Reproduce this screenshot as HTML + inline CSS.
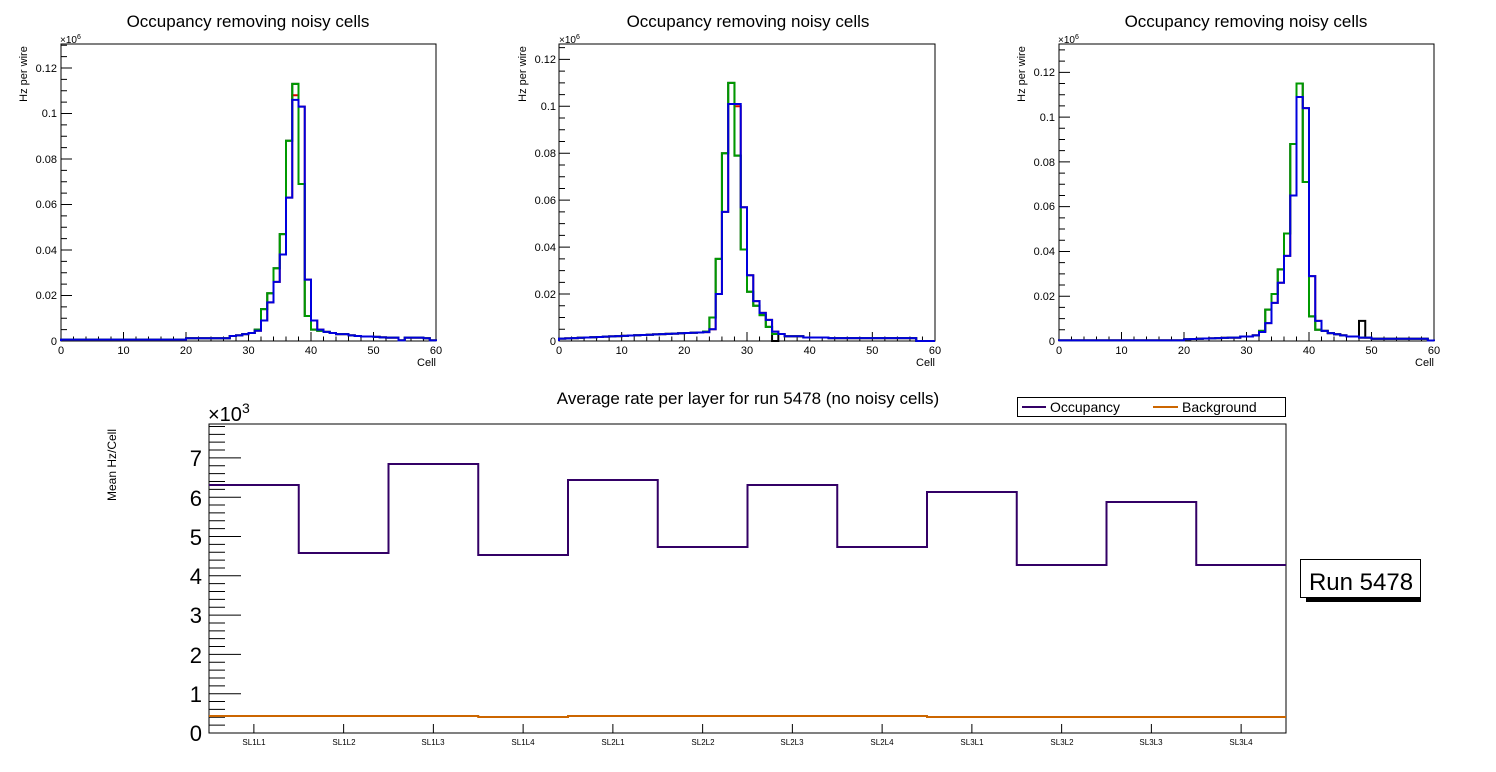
<!DOCTYPE html>
<html><head><meta charset="utf-8"><style>
html,body{margin:0;padding:0;background:#fff;}
svg{display:block;font-family:"Liberation Sans",Arial,sans-serif;}
</style></head><body>
<svg id="s" width="1496" height="772" viewBox="0 0 1496 772" xmlns="http://www.w3.org/2000/svg">
<rect width="1496" height="772" fill="#fff"/>
<g id="g"></g>
<!-- top titles -->
<text x="248" y="27" font-size="17" text-anchor="middle">Occupancy removing noisy cells</text>
<text x="748" y="27" font-size="17" text-anchor="middle">Occupancy removing noisy cells</text>
<text x="1246" y="27" font-size="17" text-anchor="middle">Occupancy removing noisy cells</text>
<!-- y labels -->
<text transform="translate(27,74) rotate(-90)" font-size="11" text-anchor="middle">Hz per wire</text>
<text transform="translate(526,74) rotate(-90)" font-size="11" text-anchor="middle">Hz per wire</text>
<text transform="translate(1025,74) rotate(-90)" font-size="11" text-anchor="middle">Hz per wire</text>
<text x="60" y="43" font-size="10">×10<tspan dy="-4" font-size="7">6</tspan></text>
<text x="559" y="43" font-size="10">×10<tspan dy="-4" font-size="7">6</tspan></text>
<text x="1058" y="43" font-size="10">×10<tspan dy="-4" font-size="7">6</tspan></text>
<text x="436" y="366" font-size="11" text-anchor="end">Cell</text>
<text x="935" y="366" font-size="11" text-anchor="end">Cell</text>
<text x="1434" y="366" font-size="11" text-anchor="end">Cell</text>
<g id="tl" font-size="11"></g>
<!-- left plot tick labels -->
<g font-size="11" text-anchor="end">
<text x="57" y="345">0</text><text x="57" y="299">0.02</text><text x="57" y="254">0.04</text><text x="57" y="208">0.06</text><text x="57" y="163">0.08</text><text x="57" y="117">0.1</text><text x="57" y="72">0.12</text>
<text x="556" y="345">0</text><text x="556" y="298">0.02</text><text x="556" y="251">0.04</text><text x="556" y="204">0.06</text><text x="556" y="157">0.08</text><text x="556" y="110">0.1</text><text x="556" y="63">0.12</text>
<text x="1055" y="345">0</text><text x="1055" y="300">0.02</text><text x="1055" y="255">0.04</text><text x="1055" y="210">0.06</text><text x="1055" y="166">0.08</text><text x="1055" y="121">0.1</text><text x="1055" y="76">0.12</text>
</g>
<g font-size="11" text-anchor="middle">
<text x="61" y="354">0</text><text x="123.5" y="354">10</text><text x="186" y="354">20</text><text x="248.5" y="354">30</text><text x="311" y="354">40</text><text x="373.5" y="354">50</text><text x="436" y="354">60</text>
<text x="559" y="354">0</text><text x="621.7" y="354">10</text><text x="684.3" y="354">20</text><text x="747" y="354">30</text><text x="809.7" y="354">40</text><text x="872.3" y="354">50</text><text x="935" y="354">60</text>
<text x="1059" y="354">0</text><text x="1121.5" y="354">10</text><text x="1184" y="354">20</text><text x="1246.5" y="354">30</text><text x="1309" y="354">40</text><text x="1371.5" y="354">50</text><text x="1434" y="354">60</text>
</g>
<!-- bottom -->
<text x="748" y="404" font-size="17" text-anchor="middle">Average rate per layer for run 5478 (no noisy cells)</text>
<text transform="translate(116,465) rotate(-90)" font-size="12" text-anchor="middle">Mean Hz/Cell</text>
<text x="208" y="421" font-size="20">×10<tspan dy="-8" font-size="14">3</tspan></text>
<g font-size="22" text-anchor="end">
<text x="202" y="741">0</text><text x="202" y="702">1</text><text x="202" y="663">2</text><text x="202" y="623">3</text><text x="202" y="584">4</text><text x="202" y="545">5</text><text x="202" y="506">6</text><text x="202" y="466">7</text>
</g>
<g font-size="8" text-anchor="middle">
<text x="254" y="745">SL1L1</text><text x="344" y="745">SL1L2</text><text x="433" y="745">SL1L3</text><text x="523" y="745">SL1L4</text><text x="613" y="745">SL2L1</text><text x="703" y="745">SL2L2</text><text x="792" y="745">SL2L3</text><text x="882" y="745">SL2L4</text><text x="972" y="745">SL3L1</text><text x="1062" y="745">SL3L2</text><text x="1151" y="745">SL3L3</text><text x="1241" y="745">SL3L4</text>
</g>
<rect x="1017.5" y="397.5" width="268" height="19" fill="#fff" stroke="#000" stroke-width="1"/>
<line x1="1022" y1="407" x2="1046" y2="407" stroke="#330066" stroke-width="2"/>
<text x="1050" y="412" font-size="14">Occupancy</text>
<line x1="1153" y1="407" x2="1178" y2="407" stroke="#cc6600" stroke-width="2"/>
<text x="1182" y="412" font-size="14">Background</text>
<rect x="1306" y="565" width="115" height="37" fill="#000"/>
<rect x="1300.5" y="559.5" width="120" height="38" fill="#fff" stroke="#000" stroke-width="1"/>
<text x="1361" y="590" font-size="24" text-anchor="middle">Run 5478</text>
</svg>
<script>
var g=document.getElementById('g'),NS='http://www.w3.org/2000/svg';
function P(d,c,w){var p=document.createElementNS(NS,'path');p.setAttribute('d',d);p.setAttribute('stroke',c);p.setAttribute('stroke-width',w);p.setAttribute('fill','none');g.appendChild(p);}
function hist(x0,x1,y0,sc,vals,c){var bw=(x1-x0)/vals.length,d='M'+x0+' '+y0;for(var i=0;i<vals.length;i++){var y=y0-vals[i]*sc;d+=' L'+(x0+i*bw)+' '+y+' L'+(x0+(i+1)*bw)+' '+y;}d+=' L'+x1+' '+y0;P(d,c,2);}
function frame(x0,x1,yt,yb,sc,top){var d='M'+x0+' '+yt+'H'+x1+'V'+yb+'H'+x0+'Z';
 for(var v=0;v*sc<=yb-yt+0.1;v+=0.005){var y=yb-v*sc;var L=(Math.round(v*1000)%20==0)?11:6;d+=' M'+x0+' '+y+'h'+L;}
 var bw=(x1-x0)/60;for(var i=0;i<=60;i+=2){var x=x0+i*bw;var L=(i%10==0)?9:4.5;d+=' M'+x+' '+yb+'v-'+L;}
 P(d,'#000',1);}
function base(n,f){var a=[];for(var i=0;i<60;i++)a.push(f(i));return a;}
// left
(function(){var x0=61,x1=436,y0=341,sc=2275;
frame(x0,x1,44,341,sc);
var b=base(60,function(i){return i<20?0.0006:i<27?0.0012:0.002;});
var m={27:.0022,28:.0025,29:.003,30:.0035,31:.0045,32:.009,33:.017,34:.026,35:.038,36:.063,37:.106,38:.103,39:.027,40:.009,41:.005,42:.004,43:.0035,44:.003,45:.003,46:.0025,47:.0022,48:.002,49:.002,50:.0018,51:.0016,52:.0015,53:.0015,54:.0003,55:.0015,56:.0015,57:.0015,58:.0012,59:.0003};
for(var k in m)b[k]=m[k];
var gr=b.slice();var gm={31:.005,32:.014,33:.021,34:.032,35:.047,36:.088,37:.113,38:.069,39:.011,40:.005,41:.0045};for(var k in gm)gr[k]=gm[k];
var bl=gr.slice();bl[36]=.088;var r=b.slice();r[37]=.108;r[38]=.103;
hist(x0,x1,y0,sc,bl,'#000');hist(x0,x1,y0,sc,r,'#e00000');hist(x0,x1,y0,sc,gr,'#009900');hist(x0,x1,y0,sc,b,'#0000dd');})();
// middle
(function(){var x0=559,x1=935,y0=341,sc=2347;
frame(x0,x1,44,341,sc);
var b=base(60,function(i){return i<24?0.001+i*0.00012:i<57?0.0012:0;});
var m={24:.005,25:.020,26:.055,27:.101,28:.101,29:.057,30:.028,31:.017,32:.012,33:.009,34:.004,35:.003,36:.002,37:.002,38:.002,39:.0015,40:.0015,41:.0015,42:.0015,43:.0012};
for(var k in m)b[k]=m[k];
var gr=b.slice();var gm={23:.004,24:.010,25:.035,26:.080,27:.110,28:.079,29:.039,30:.021,31:.015,32:.011,33:.006,34:.003};for(var k in gm)gr[k]=gm[k];
var bl=gr.slice();bl[34]=0;var r=b.slice();r[28]=.100;
hist(x0,x1,y0,sc,bl,'#000');hist(x0,x1,y0,sc,r,'#e00000');hist(x0,x1,y0,sc,gr,'#009900');hist(x0,x1,y0,sc,b,'#0000dd');})();
// right
(function(){var x0=1059,x1=1434,y0=341,sc=2239;
frame(x0,x1,44,341,sc);
var b=base(60,function(i){return i<20?0.0003:i<30?0.0008+(i-20)*0.0001:0.001;});
var m={28:.0015,29:.002,30:.002,31:.0025,32:.004,33:.008,34:.017,35:.026,36:.038,37:.065,38:.109,39:.104,40:.029,41:.009,42:.0045,43:.0035,44:.003,45:.0025,46:.002,47:.002,48:.0015,49:.0015,59:.0002};
for(var k in m)b[k]=m[k];
var gr=b.slice();var gm={32:.0045,33:.014,34:.021,35:.032,36:.048,37:.088,38:.115,39:.071,40:.011,41:.005};for(var k in gm)gr[k]=gm[k];
var bl=gr.slice();bl[48]=.009;var r=b.slice();
hist(x0,x1,y0,sc,bl,'#000');hist(x0,x1,y0,sc,r,'#e00000');hist(x0,x1,y0,sc,gr,'#009900');hist(x0,x1,y0,sc,b,'#0000dd');})();
// bottom
(function(){var x0=209,x1=1286,yt=424,yb=733,u=39.3;
var d='M'+x0+' '+yt+'H'+x1+'V'+yb+'H'+x0+'Z';
for(var k=0;k<=39;k++){var y=yb-k*0.2*u;if(y<yt)break;d+=' M'+x0+' '+y+'h'+(k%5==0?32:16);}
var bw=(x1-x0)/12;for(var i=0;i<12;i++){d+=' M'+(x0+(i+.5)*bw)+' '+yb+'v-9';}
P(d,'#000',1);
var occ=[485,553,464,555,480,547,485,547,492,565,502,565];
var bg=[716,716,716,717,716,716,716,716,717,717,717,717];
function st(a,c){var s='M'+x0+' '+a[0];for(var i=0;i<12;i++){s+=' L'+(x0+i*bw)+' '+a[i]+' L'+(x0+(i+1)*bw)+' '+a[i];}P(s,c,2);}
st(occ,'#330066');st(bg,'#cc6600');})();
</script>
</body></html>
